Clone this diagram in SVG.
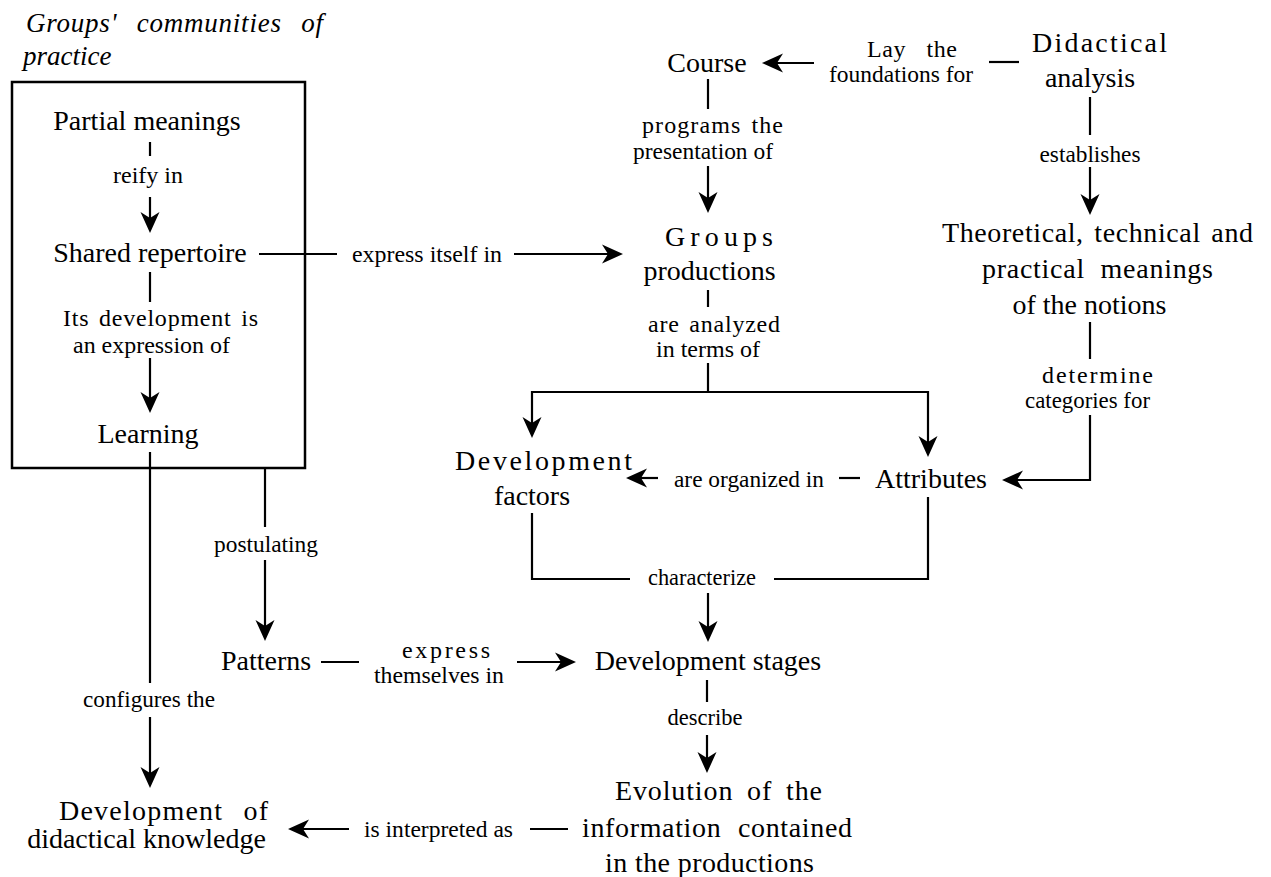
<svg xmlns="http://www.w3.org/2000/svg" width="1271" height="877" viewBox="0 0 1271 877">
<style>
text{font-family:"Liberation Serif","Times New Roman",serif;fill:#000}
.n{font-size:28px;text-anchor:middle}
.l{font-size:24px;text-anchor:middle}
.ti{font-size:27px;font-style:italic}
.c path{fill:none;stroke:#000;stroke-width:2.2;stroke-linejoin:miter}
.c path.a{marker-end:url(#arr)}
</style>
<defs>
<marker id="arr" markerUnits="userSpaceOnUse" viewBox="-18 -11 24 22" refX="0" refY="0" markerWidth="24" markerHeight="22" orient="auto">
<path d="M5,0 L-16,-9.5 L-10,0 L-16,9.5 Z" fill="#000"/>
</marker>
</defs>
<rect width="1271" height="877" fill="#fff"/>
<g id="title">
<text class="ti" x="26" y="32" word-spacing="12" textLength="297">Groups' communities of</text>
<text class="ti" x="23" y="65">practice</text>
</g>
<rect id="community-box" x="12" y="82" width="293" height="386" fill="none" stroke="#000" stroke-width="2.5"/>
<g id="connectors" class="c">
<path d="M150,142V156"/>
<path class="a" d="M150,197V228"/>
<path d="M150,272V302"/>
<path class="a" d="M150,358V408"/>
<path d="M259,254H337"/>
<path class="a" d="M514,254H618"/>
<path d="M150,452V683"/>
<path class="a" d="M150,717V783"/>
<path d="M265,468V527"/>
<path class="a" d="M265,560V636"/>
<path d="M989,62H1019"/>
<path class="a" d="M814,63H767"/>
<path d="M708,79V109"/>
<path class="a" d="M708,166V208"/>
<path d="M1090,97V135"/>
<path class="a" d="M1090,167V210"/>
<path d="M1090,322V359"/>
<path class="a" d="M1090,415V480H1007"/>
<path d="M708,290V307"/>
<path d="M708,363V392"/>
<path class="a" d="M708,392H532V433"/>
<path class="a" d="M708,392H928V452"/>
<path d="M839,478H860"/>
<path class="a" d="M658,478H631"/>
<path d="M532,513V579H630"/>
<path d="M928,497V579H774"/>
<path class="a" d="M708,593V637"/>
<path d="M321,662H359"/>
<path class="a" d="M517,662H571"/>
<path d="M707,680V702"/>
<path class="a" d="M707,735V768"/>
<path d="M530,829H568"/>
<path class="a" d="M349,829H293"/>
</g>
<g id="labels">
<text class="l" x="148" y="183" textLength="70" lengthAdjust="spacingAndGlyphs">reify in</text>
<text class="l" x="160.5" y="326" word-spacing="3" textLength="195">Its development is</text>
<text class="l" x="151.5" y="353" textLength="157" lengthAdjust="spacingAndGlyphs">an expression of</text>
<text class="l" x="427" y="262" textLength="150" lengthAdjust="spacingAndGlyphs">express itself in</text>
<text class="l" x="912" y="57" word-spacing="14" textLength="90">Lay the</text>
<text class="l" x="901" y="82" textLength="144" lengthAdjust="spacingAndGlyphs">foundations for</text>
<text class="l" x="712.5" y="133" word-spacing="3" textLength="141">programs the</text>
<text class="l" x="703" y="159" textLength="140" lengthAdjust="spacingAndGlyphs">presentation of</text>
<text class="l" x="1090" y="162" textLength="101" lengthAdjust="spacingAndGlyphs">establishes</text>
<text class="l" x="714" y="332" word-spacing="3" textLength="132">are analyzed</text>
<text class="l" x="708" y="357" textLength="104" lengthAdjust="spacingAndGlyphs">in terms of</text>
<text class="l" x="1097.5" y="383" textLength="111">determine</text>
<text class="l" x="1087.5" y="408" textLength="125" lengthAdjust="spacingAndGlyphs">categories for</text>
<text class="l" x="749" y="487" textLength="150" lengthAdjust="spacingAndGlyphs">are organized in</text>
<text class="l" x="702" y="585" textLength="108" lengthAdjust="spacingAndGlyphs">characterize</text>
<text class="l" x="266" y="552" textLength="104" lengthAdjust="spacingAndGlyphs">postulating</text>
<text class="l" x="149" y="707" textLength="132" lengthAdjust="spacingAndGlyphs">configures the</text>
<text class="l" x="446" y="658" textLength="88">express</text>
<text class="l" x="439" y="683" textLength="130" lengthAdjust="spacingAndGlyphs">themselves in</text>
<text class="l" x="705" y="725" textLength="75" lengthAdjust="spacingAndGlyphs">describe</text>
<text class="l" x="438.5" y="837" textLength="149" lengthAdjust="spacingAndGlyphs">is interpreted as</text>
</g>
<g id="partial-meanings"><text class="n" x="147" y="130">Partial meanings</text></g>
<g id="shared-repertoire"><text class="n" x="150" y="262">Shared repertoire</text></g>
<g id="learning"><text class="n" x="148" y="443">Learning</text></g>
<g id="course"><text class="n" x="707" y="72">Course</text></g>
<g id="didactical-analysis">
<text class="n" x="1099.5" y="52" textLength="135">Didactical</text>
<text class="n" x="1090" y="87">analysis</text>
</g>
<g id="groups-productions">
<text class="n" x="719" y="246" textLength="108">Groups</text>
<text class="n" x="709.5" y="280">productions</text>
</g>
<g id="meanings-of-notions">
<text class="n" x="1097.5" y="242" word-spacing="3" textLength="311">Theoretical, technical and</text>
<text class="n" x="1097.5" y="278" word-spacing="8" textLength="231">practical meanings</text>
<text class="n" x="1089.5" y="314">of the notions</text>
</g>
<g id="development-factors">
<text class="n" x="543.5" y="470" textLength="177">Development</text>
<text class="n" x="532" y="505">factors</text>
</g>
<g id="attributes"><text class="n" x="931" y="488">Attributes</text></g>
<g id="patterns"><text class="n" x="266" y="670">Patterns</text></g>
<g id="development-stages"><text class="n" x="708" y="670">Development stages</text></g>
<g id="didactical-knowledge">
<text class="n" x="163.5" y="820" word-spacing="12" textLength="209">Development of</text>
<text class="n" x="146.5" y="848">didactical knowledge</text>
</g>
<g id="evolution">
<text class="n" x="718.5" y="800" word-spacing="6" textLength="207">Evolution of the</text>
<text class="n" x="717" y="837" word-spacing="9" textLength="270">information contained</text>
<text class="n" x="709.5" y="872" textLength="209">in the productions</text>
</g>
</svg>
